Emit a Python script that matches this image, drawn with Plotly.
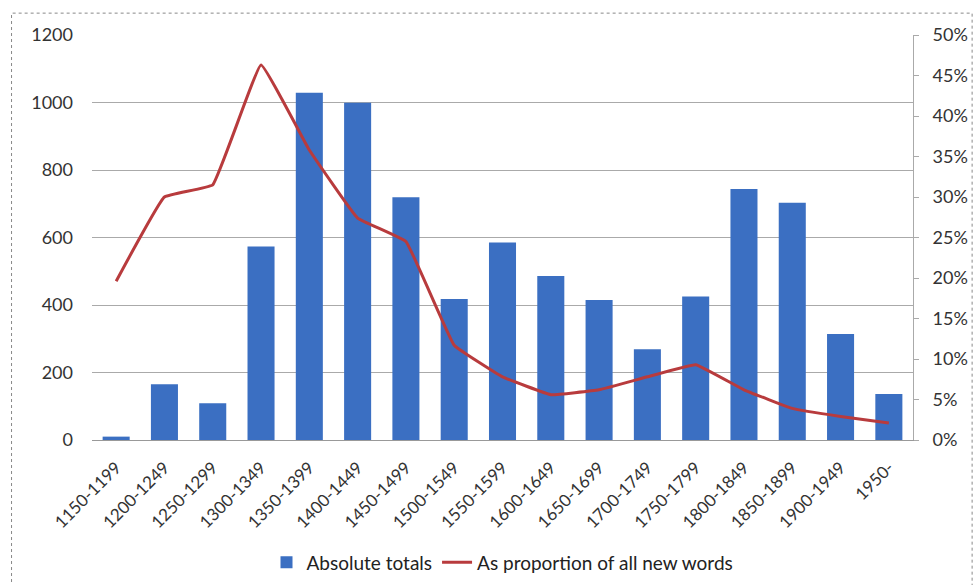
import plotly.graph_objects as go

periods = ["1150-1199", "1200-1249", "1250-1299", "1300-1349", "1350-1399", "1400-1449",
           "1450-1499", "1500-1549", "1550-1599", "1600-1649", "1650-1699", "1700-1749",
           "1750-1799", "1800-1849", "1850-1899", "1900-1949", "1950-"]
absolute_totals = [10, 165, 109, 573, 1029, 999, 719, 418, 585, 486, 415, 269, 425, 744, 703, 314, 136]
proportion = [0.196, 0.300, 0.315, 0.463, 0.358, 0.274, 0.245, 0.117, 0.078, 0.056, 0.062,
              0.078, 0.093, 0.062, 0.039, 0.029, 0.021]
left_ticks = [0, 200, 400, 600, 800, 1000, 1200]
right_ticks = [0, 0.05, 0.10, 0.15, 0.20, 0.25, 0.30, 0.35, 0.40, 0.45, 0.50]

font = "Lato"
fig = go.Figure()
fig.add_trace(go.Bar(x=periods, y=absolute_totals, name="Absolute totals",
                     marker=dict(color="#3B6FC2", line=dict(width=0)), yaxis="y"))
fig.add_trace(go.Scatter(x=periods, y=proportion, name="As proportion of all new words",
                         mode="lines", line=dict(color="#B83B3D", width=3, shape="spline", smoothing=0.25),
                         yaxis="y2"))

fig.update_layout(
    width=977, height=585,
    margin=dict(l=92, r=64, t=35, b=145, autoexpand=False),
    paper_bgcolor="white", plot_bgcolor="white",
    font=dict(family=font, size=18, color="#333333"),
    bargap=0.44,
    showlegend=True,
    legend=dict(orientation="h", x=0.5, xanchor="center", y=-0.302, yanchor="middle",
                font=dict(size=19, color="#222222"), traceorder="normal"),
    xaxis=dict(type="category", tickangle=-45, showgrid=False, showline=True, linecolor="#999999",
               linewidth=1, ticks="", tickfont=dict(size=17), range=[-0.5, 16.5], automargin=False,
               ticklabelstandoff=10),
    yaxis=dict(range=[0, 1200], tickvals=left_ticks, showgrid=True, gridcolor="#AAAAAA", gridwidth=1,
               showline=False, zeroline=False, ticks="", ticklabelstandoff=18, tickfont=dict(size=18),
               automargin=False),
    yaxis2=dict(range=[0, 0.5], tickvals=right_ticks, tickformat=".0%", overlaying="y", side="right",
                showgrid=False, showline=True, linecolor="#AAAAAA", linewidth=1, ticks="outside",
                ticklen=5, tickcolor="#AAAAAA", zeroline=False, tickfont=dict(size=18), automargin=False,
                ticklabelstandoff=10),
)
fig.add_shape(type="rect", xref="paper", yref="paper", x0=-0.098, x1=1.072, y0=-0.42, y1=1.054,
              line=dict(color="#888888", width=1, dash="dot"), layer="below")
fig.write_html("out.html")
